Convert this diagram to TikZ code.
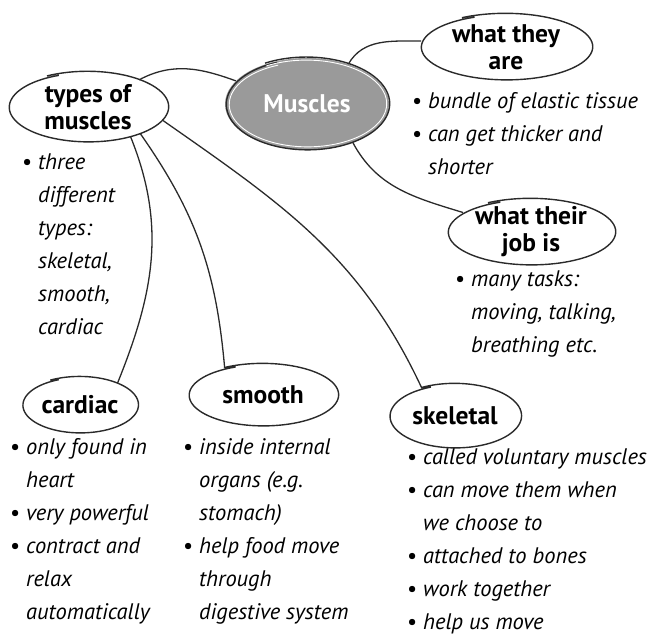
\documentclass[tikz,border=0pt]{standalone}
\usepackage{fontspec}
\setmainfont{PT Sans}
\usepackage{xcolor}
\usepackage{tikz}
\usetikzlibrary{shapes.geometric}

\definecolor{musclegray}{HTML}{9A9A9A}
\definecolor{inkline}{HTML}{2A2A2A}

\newcommand{\bul}{\makebox[16pt][l]{\upshape\textbullet}}
\newcommand{\ind}{\hspace*{16pt}}
% hand drawn ring round a node: node, half width, half height
\newcommand{\lasso}[4][]{%
  \draw[inkline,line width=1.4pt,#1,shift={(#2.center)}]
    plot[smooth,domain=112:480,samples=90,variable=\t]
    ({#3*(0.975+0.05*(\t-112)/368)*cos(\t)},{#4*(0.975+0.05*(\t-112)/368)*sin(\t)});}

\tikzset{
  bubble/.style={ellipse,inner sep=-8pt,align=center,font=\bfseries\fontsize{25.5}{27}\selectfont},
  hub/.style={fill=musclegray,text=white},
  notes/.style={anchor=north west,align=left,inner sep=0pt,font=\itshape\fontsize{22.5}{33}\selectfont},
  link/.style={inkline,line width=1.3pt},
}

\begin{document}
\begin{tikzpicture}[x=1pt,y=1pt]
\useasboundingbox (0,0) rectangle (660,-634);
\node[bubble,hub,minimum width=164pt,minimum height=92pt](muscles) at (307,-104){Muscles};
\node[bubble,minimum width=172pt,minimum height=66pt](theyare) at (506,-47){what they\\are};
\node[bubble,minimum width=160pt,minimum height=70pt](types) at (88,-107){types of\\muscles};
\node[bubble,minimum width=168pt,minimum height=66pt](jobis) at (531,-232){what their\\job is};
\node[bubble,minimum width=116pt,minimum height=56pt](cardiac) at (80,-405){cardiac};
\node[bubble,minimum width=150pt,minimum height=62pt](smooth) at (263,-395){smooth};
\node[bubble,minimum width=132pt,minimum height=64pt](skeletal) at (455,-416){skeletal};
\lasso{muscles}{82}{46}
\lasso[white,line width=0.9pt]{muscles}{79}{43}
\lasso{theyare}{86}{33}
\lasso{types}{80}{35}
\lasso{jobis}{84}{33}
\lasso{cardiac}{58}{28}
\lasso{smooth}{75}{31}
\lasso{skeletal}{66}{32}
% links
\draw[link](types.28) to[out=28,in=160] (muscles.162);
\draw[link](muscles.44) to[out=60,in=180] (theyare.176);
\draw[link](muscles.-40) to[out=-62,in=163] (jobis.164);
\draw[link](types.-35) to[out=-68,in=68] (cardiac.30);
\draw[link](types.-27) to[out=-55,in=95] (smooth.145);
\draw[link](types.-10) to[out=-35,in=115] (skeletal.140);
% notes
\node[notes](theyare notes) at (412,-85){\strut\bul bundle of elastic tissue\\\bul can get thicker and\\\ind shorter};
\node[notes](types notes) at (22,-146){\strut\bul three\\\ind different\\\ind types:\\\ind skeletal,\\\ind smooth,\\\ind cardiac};
\node[notes](jobis notes) at (455,-263){\strut\bul many tasks:\\\ind moving, talking,\\\ind breathing etc.};
\node[notes](cardiac notes) at (10,-431){\strut\bul only found in\\\ind heart\\\bul very powerful\\\bul contract and\\\ind relax\\\ind automatically};
\node[notes](smooth notes) at (183,-431){\strut\bul inside internal\\\ind organs (e.g.\\\ind stomach)\\\bul help food move\\\ind through\\\ind digestive system};
\node[notes](skeletal notes) at (407,-441){\strut\bul called voluntary muscles\\\bul can move them when\\\ind we choose to\\\bul attached to bones\\\bul work together\\\bul help us move};
\end{tikzpicture}
\end{document}
